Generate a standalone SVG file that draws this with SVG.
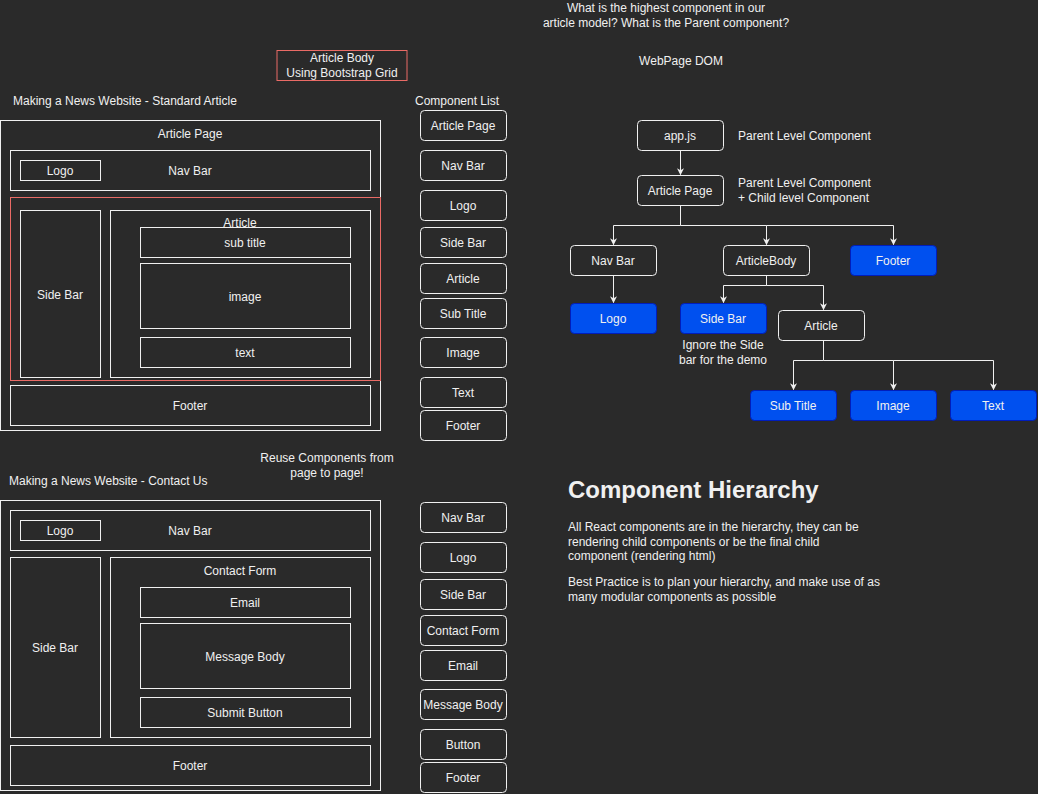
<svg xmlns="http://www.w3.org/2000/svg" width="1038" height="794" viewBox="0 0 1038 794">
<defs>
<style>
text{font-family:"Liberation Sans",Arial,sans-serif;font-size:12px;fill:#f0f0f0;}
.c{text-anchor:middle;dominant-baseline:central;}
.l{dominant-baseline:central;}
.box{fill:none;stroke:#f0f0f0;stroke-width:1;}
.rb{fill:#2a2a2a;stroke:#f0f0f0;stroke-width:1;}
.blue{fill:#0050ef;stroke:#001dbc;stroke-width:1;}
.red{fill:none;stroke:#ea6b66;stroke-width:1;}
.edge{fill:none;stroke:#f0f0f0;stroke-width:1;}
.h{font-size:24px;font-weight:bold;}
</style>
<marker id="arr" viewBox="0 0 10 10" refX="9" refY="5" markerWidth="7" markerHeight="7" markerUnits="userSpaceOnUse" orient="auto">
<path d="M0,0 L10,5 L0,10 L3,5 Z" fill="#f0f0f0"/>
</marker>
</defs>
<rect x="0" y="0" width="1038" height="794" fill="#2a2a2a"/>

<g id="titles">
<text class="c" x="666" y="8">What is the highest component in our</text>
<text class="c" x="666" y="23">article model? What is the Parent component?</text>
<text class="c" x="681" y="61">WebPage DOM</text>
<text class="l" x="13" y="101">Making a News Website - Standard Article</text>
<text class="c" x="457" y="101">Component List</text>
<text class="l" x="9" y="481">Making a News Website - Contact Us</text>
<text class="c" x="327" y="458">Reuse Components from</text>
<text class="c" x="327" y="473">page to page!</text>
</g>

<g id="bootstrap-note">
<rect class="red" x="277" y="50.5" width="130" height="30"/>
<text class="c" x="342" y="58">Article Body</text>
<text class="c" x="342" y="73">Using Bootstrap Grid</text>
</g>

<g id="article-wireframe">
<rect class="box" x="0.5" y="120.5" width="380" height="310"/>
<text class="c" x="190" y="134">Article Page</text>
<rect class="box" x="10.5" y="150.5" width="360" height="40"/>
<text class="c" x="190" y="171">Nav Bar</text>
<rect class="box" x="20.5" y="160.5" width="80" height="20"/>
<text class="c" x="60" y="171">Logo</text>
<rect class="red" x="10.5" y="197.5" width="370" height="183"/>
<rect class="box" x="20.5" y="210.5" width="80" height="167"/>
<text class="c" x="60" y="295">Side Bar</text>
<rect class="box" x="110.5" y="210.5" width="260" height="167"/>
<text class="c" x="240" y="223">Article</text>
<rect class="rb" x="140.5" y="227.5" width="210" height="30"/>
<text class="c" x="245" y="243">sub title</text>
<rect class="box" x="140.5" y="263.5" width="210" height="65"/>
<text class="c" x="245" y="297">image</text>
<rect class="box" x="140.5" y="337.5" width="210" height="30"/>
<text class="c" x="245" y="353">text</text>
<rect class="box" x="10.5" y="385.5" width="360" height="40"/>
<text class="c" x="190" y="406">Footer</text>
</g>

<g id="article-list">
<rect class="box" x="420.5" y="110.5" width="86" height="30" rx="4"/><text class="c" x="463" y="126">Article Page</text>
<rect class="box" x="420.5" y="150.5" width="86" height="30" rx="4"/><text class="c" x="463" y="166">Nav Bar</text>
<rect class="box" x="420.5" y="190.5" width="86" height="30" rx="4"/><text class="c" x="463" y="206">Logo</text>
<rect class="box" x="420.5" y="227.5" width="86" height="30" rx="4"/><text class="c" x="463" y="243">Side Bar</text>
<rect class="box" x="420.5" y="263.5" width="86" height="30" rx="4"/><text class="c" x="463" y="279">Article</text>
<rect class="box" x="420.5" y="298.5" width="86" height="30" rx="4"/><text class="c" x="463" y="314">Sub Title</text>
<rect class="box" x="420.5" y="337.5" width="86" height="30" rx="4"/><text class="c" x="463" y="353">Image</text>
<rect class="box" x="420.5" y="377.5" width="86" height="30" rx="4"/><text class="c" x="463" y="393">Text</text>
<rect class="box" x="420.5" y="410.5" width="86" height="30" rx="4"/><text class="c" x="463" y="426">Footer</text>
</g>

<g id="contact-wireframe">
<rect class="box" x="0.5" y="500.5" width="380" height="290"/>
<rect class="box" x="10.5" y="510.5" width="360" height="40"/>
<text class="c" x="190" y="531">Nav Bar</text>
<rect class="box" x="20.5" y="520.5" width="80" height="20"/>
<text class="c" x="60" y="531">Logo</text>
<rect class="box" x="10.5" y="557.5" width="90" height="180"/>
<text class="c" x="55" y="648">Side Bar</text>
<rect class="box" x="110.5" y="557.5" width="260" height="180"/>
<text class="c" x="240" y="571">Contact Form</text>
<rect class="box" x="140.5" y="587.5" width="210" height="30"/>
<text class="c" x="245" y="603">Email</text>
<rect class="box" x="140.5" y="623.5" width="210" height="65"/>
<text class="c" x="245" y="657">Message Body</text>
<rect class="box" x="140.5" y="697.5" width="210" height="30"/>
<text class="c" x="245" y="713">Submit Button</text>
<rect class="box" x="10.5" y="745.5" width="360" height="40"/>
<text class="c" x="190" y="766">Footer</text>
</g>

<g id="contact-list">
<rect class="box" x="420.5" y="502.5" width="86" height="30" rx="4"/><text class="c" x="463" y="518">Nav Bar</text>
<rect class="box" x="420.5" y="542.5" width="86" height="30" rx="4"/><text class="c" x="463" y="558">Logo</text>
<rect class="box" x="420.5" y="579.5" width="86" height="30" rx="4"/><text class="c" x="463" y="595">Side Bar</text>
<rect class="box" x="420.5" y="615.5" width="86" height="30" rx="4"/><text class="c" x="463" y="631">Contact Form</text>
<rect class="box" x="420.5" y="650.5" width="86" height="30" rx="4"/><text class="c" x="463" y="666">Email</text>
<rect class="box" x="420.5" y="689.5" width="86" height="30" rx="4"/><text class="c" x="463" y="705">Message Body</text>
<rect class="box" x="420.5" y="729.5" width="86" height="30" rx="4"/><text class="c" x="463" y="745">Button</text>
<rect class="box" x="420.5" y="762.5" width="86" height="30" rx="4"/><text class="c" x="463" y="778">Footer</text>
</g>

<g id="connectors">
<path class="edge" d="M680.5,150.5 V174.5" marker-end="url(#arr)"/>
<path class="edge" d="M680.5,205.5 V225.5 H613.5 V244.5" marker-end="url(#arr)"/>
<path class="edge" d="M680.5,225.5 H766.5 V244.5" marker-end="url(#arr)"/>
<path class="edge" d="M766.5,225.5 H893.5 V244.5" marker-end="url(#arr)"/>
<path class="edge" d="M613.5,275.5 V302.5" marker-end="url(#arr)"/>
<path class="edge" d="M766.5,275.5 V285.5 H723.5 V302.5" marker-end="url(#arr)"/>
<path class="edge" d="M766.5,285.5 H823.5 V309.5" marker-end="url(#arr)"/>
<path class="edge" d="M823.5,340.5 V360.5 H793.5 V389.5" marker-end="url(#arr)"/>
<path class="edge" d="M823.5,360.5 H893.5 V389.5" marker-end="url(#arr)"/>
<path class="edge" d="M893.5,360.5 H993.5 V389.5" marker-end="url(#arr)"/>
</g>

<g id="node-app">
<rect class="box" x="637.5" y="120.5" width="86" height="30" rx="4"/>
<text class="c" x="680" y="136">app.js</text>
<text class="l" x="738" y="136">Parent Level Component</text>
</g>
<g id="node-articlepage">
<rect class="box" x="637.5" y="175.5" width="86" height="30" rx="4"/>
<text class="c" x="680" y="191">Article Page</text>
<text class="l" x="738" y="183">Parent Level Component</text>
<text class="l" x="738" y="198">+ Child level Component</text>
</g>
<g id="node-navbar">
<rect class="box" x="570.5" y="245.5" width="86" height="30" rx="4"/>
<text class="c" x="613" y="261">Nav Bar</text>
</g>
<g id="node-articlebody">
<rect class="box" x="723.5" y="245.5" width="86" height="30" rx="4"/>
<text class="c" x="766" y="261">ArticleBody</text>
</g>
<g id="node-footer">
<rect class="blue" x="850.5" y="245.5" width="86" height="30" rx="4"/>
<text class="c" x="893" y="261">Footer</text>
</g>
<g id="node-logo">
<rect class="blue" x="570.5" y="303.5" width="86" height="30" rx="4"/>
<text class="c" x="613" y="319">Logo</text>
</g>
<g id="node-sidebar">
<rect class="blue" x="680.5" y="303.5" width="86" height="30" rx="4"/>
<text class="c" x="723" y="319">Side Bar</text>
<text class="c" x="723" y="345">Ignore the Side</text>
<text class="c" x="723" y="360">bar for the demo</text>
</g>
<g id="node-article">
<rect class="box" x="778.5" y="310.5" width="86" height="30" rx="4"/>
<text class="c" x="821" y="326">Article</text>
</g>
<g id="node-subtitle">
<rect class="blue" x="750.5" y="390.5" width="86" height="30" rx="4"/>
<text class="c" x="793" y="406">Sub Title</text>
</g>
<g id="node-image">
<rect class="blue" x="850.5" y="390.5" width="86" height="30" rx="4"/>
<text class="c" x="893" y="406">Image</text>
</g>
<g id="node-text">
<rect class="blue" x="950.5" y="390.5" width="86" height="30" rx="4"/>
<text class="c" x="993" y="406">Text</text>
</g>

<g id="hierarchy-note">
<text class="h" x="568" y="498">Component Hierarchy</text>
<text class="l" x="568" y="527">All React components are in the hierarchy, they can be</text>
<text class="l" x="568" y="542">rendering child components or be the final child</text>
<text class="l" x="568" y="556">component (rendering html)</text>
<text class="l" x="568" y="582">Best Practice is to plan your hierarchy, and make use of as</text>
<text class="l" x="568" y="597">many modular components as possible</text>
</g>
</svg>
